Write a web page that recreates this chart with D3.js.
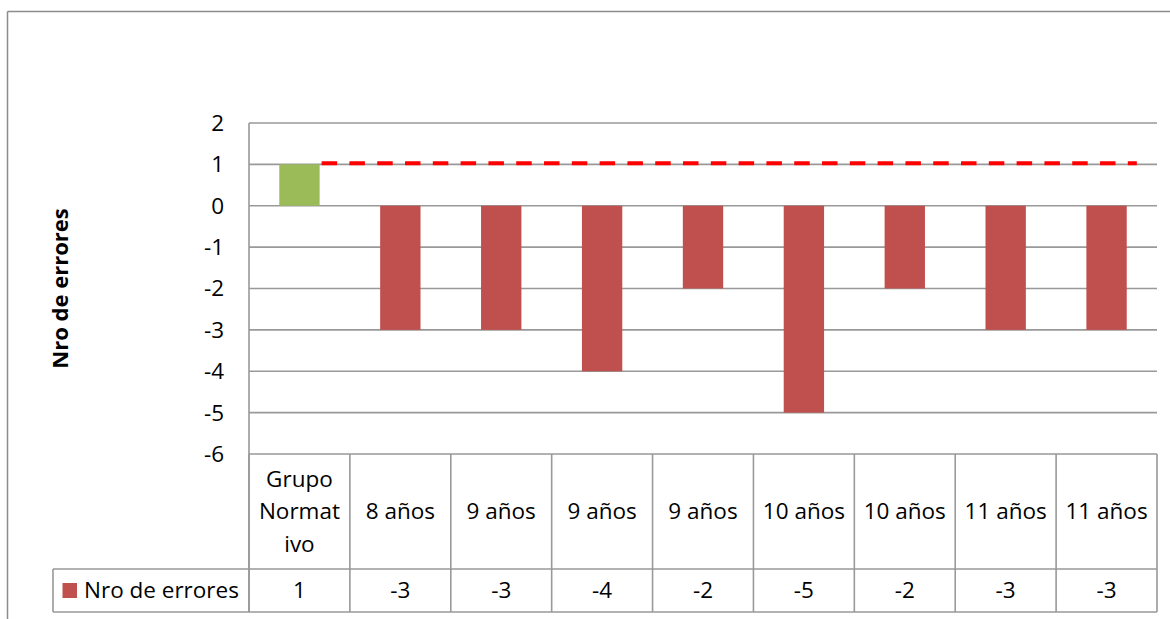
<!DOCTYPE html>
<html>
<head>
<meta charset="utf-8">
<script src="https://cdn.jsdelivr.net/npm/d3@7"></script>
<style>
  body { margin: 0; background: #fff; overflow: hidden; }
  svg { display: block; }
  text { font-family: "Open Sans", Lato, sans-serif; fill: #000; }
</style>
</head>
<body>
<script>
const categories = ['Grupo Normativo', '8 años', '9 años', '9 años', '9 años', '10 años', '10 años', '11 años', '11 años']
const tickLabels = [['Grupo', 'Normat', 'ivo'], ['8 años'], ['9 años'], ['9 años'], ['9 años'], ['10 años'], ['10 años'], ['11 años'], ['11 años']]
const errores = [1, -3, -3, -4, -2, -5, -2, -3, -3]
const yTicks = [2, 1, 0, -1, -2, -3, -4, -5, -6]
const refValue = 1
const seriesName = 'Nro de errores'
const axisTitle = 'Nro de errores'

let width, height, plotLeft, plotRight, plotTop, plotBottom
width = 1170
height = 619
plotLeft = 249
plotRight = 1157
plotTop = 123
plotBottom = 454

const headerBottom = 569
const rowBottom = 612
const legendLeft = 53
const gridColor = '#999'
const fontSize = '22.5px'

const svg = d3.select('body')
                .append('svg')
                .attr('width', width)
                .attr('height', height)

// outer chart frame (only top & left visible)
svg.append('line').attr('x1', 7.5).attr('x2', width).attr('y1', 11.5).attr('y2', 11.5)
    .attr('stroke', '#8c8c8c').attr('stroke-width', 1.5)
svg.append('line').attr('x1', 7.5).attr('x2', 7.5).attr('y1', 11.5).attr('y2', height)
    .attr('stroke', '#8c8c8c').attr('stroke-width', 1.5)

const xScale = d3.scaleBand()
                    .domain(d3.range(categories.length))
                    .range([plotLeft, plotRight])
                    .paddingInner(0)
const yScale = d3.scaleLinear()
                    .domain([-6, 2])
                    .range([plotBottom, plotTop])

// gridlines
svg.append('g')
    .selectAll('line')
    .data(yTicks)
    .enter()
    .append('line')
    .attr('x1', plotLeft)
    .attr('x2', plotRight)
    .attr('y1', d => yScale(d))
    .attr('y2', d => yScale(d))
    .attr('stroke', gridColor)
    .attr('stroke-width', 1.6)

svg.append('line')
    .attr('x1', plotLeft).attr('x2', plotLeft)
    .attr('y1', plotTop).attr('y2', rowBottom)
    .attr('stroke', gridColor).attr('stroke-width', 1.6)

// y tick labels
svg.append('g')
    .selectAll('text')
    .data(yTicks)
    .enter()
    .append('text')
    .attr('x', 224)
    .attr('y', d => yScale(d))
    .attr('dy', '0.35em')
    .attr('text-anchor', 'end')
    .style('font-size', fontSize)
    .text(d => d)

svg.append('text')
    .attr('transform', 'translate(68,' + ((plotTop + plotBottom) / 2) + ') rotate(-90)')
    .attr('text-anchor', 'middle')
    .style('font-size', '22px')
    .style('font-weight', 'bold')
    .text(axisTitle)

// bars
const barW = xScale.bandwidth() * 0.4
svg.append('g')
    .selectAll('rect')
    .data(errores)
    .enter()
    .append('rect')
    .attr('x', (d, i) => xScale(i) + (xScale.bandwidth() - barW) / 2)
    .attr('y', d => yScale(Math.max(0, d)))
    .attr('width', barW)
    .attr('height', d => Math.abs(yScale(d) - yScale(0)))
    .attr('fill', d => d > 0 ? '#9bbb59' : '#c0504d')

// dashed reference line
const x0 = xScale(0) + (xScale.bandwidth() + barW) / 2 + 2
const x1 = xScale(categories.length - 1) + xScale.bandwidth() * 0.8
svg.append('line')
    .attr('x1', x0).attr('x2', x1)
    .attr('y1', yScale(refValue) - 1.2).attr('y2', yScale(refValue) - 1.2)
    .attr('stroke', '#ff0000')
    .attr('stroke-width', 4)
    .attr('stroke-dasharray', '15.5,12.3')

// data table
const tbl = svg.append('g')
const cols = d3.range(categories.length + 1).map(i => i < categories.length ? xScale(i) : plotRight)
tbl.selectAll('line.v')
    .data(cols)
    .enter()
    .append('line')
    .attr('x1', d => d).attr('x2', d => d)
    .attr('y1', plotBottom).attr('y2', rowBottom)
    .attr('stroke', gridColor).attr('stroke-width', 1.6)
tbl.append('line').attr('x1', legendLeft).attr('x2', plotRight).attr('y1', headerBottom).attr('y2', headerBottom)
    .attr('stroke', gridColor).attr('stroke-width', 1.6)
tbl.append('line').attr('x1', legendLeft).attr('x2', plotRight).attr('y1', rowBottom).attr('y2', rowBottom)
    .attr('stroke', gridColor).attr('stroke-width', 1.6)
tbl.append('line').attr('x1', legendLeft).attr('x2', legendLeft).attr('y1', headerBottom).attr('y2', rowBottom)
    .attr('stroke', gridColor).attr('stroke-width', 1.6)

const headerMid = (plotBottom + headerBottom) / 2
tbl.selectAll('text.cat')
    .data(tickLabels)
    .enter()
    .append('text')
    .attr('class', 'cat')
    .attr('text-anchor', 'middle')
    .style('font-size', fontSize)
    .each(function(lines, i) {
        const t = d3.select(this)
        const lh = 32.5
        lines.forEach((ln, k) => {
            t.append('tspan')
                .attr('x', xScale(i) + xScale.bandwidth() / 2)
                .attr('y', headerMid + (k - (lines.length - 1) / 2) * lh)
                .attr('dy', '0.35em')
                .text(ln)
        })
    })

const rowMid = (headerBottom + rowBottom) / 2
tbl.selectAll('text.val')
    .data(errores)
    .enter()
    .append('text')
    .attr('class', 'val')
    .attr('x', (d, i) => xScale(i) + xScale.bandwidth() / 2)
    .attr('y', rowMid)
    .attr('dy', '0.35em')
    .attr('text-anchor', 'middle')
    .style('font-size', fontSize)
    .text(d => d)

// legend key in table
tbl.append('rect')
    .attr('x', 62.5).attr('y', rowMid - 7.5)
    .attr('width', 14.5).attr('height', 15)
    .attr('fill', '#c0504d')
tbl.append('text')
    .attr('x', 84)
    .attr('y', rowMid)
    .attr('dy', '0.35em')
    .style('font-size', fontSize)
    .text(seriesName)
</script>
</body>
</html>
